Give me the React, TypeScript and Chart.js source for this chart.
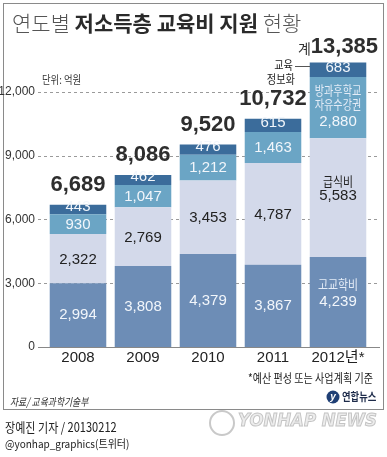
import React, { useEffect, useRef } from 'react';
import { Chart, registerables } from 'chart.js';
Chart.register(...registerables);

const years = ['2008', '2009', '2010', '2011', '2012년*'];
const highSchool = [2994, 3808, 4379, 3867, 4239];
const meals = [2322, 2769, 3453, 4787, 5583];
const afterSchool = [930, 1047, 1212, 1463, 2880];
const infoEdu = [443, 462, 476, 615, 683];
const totals = [6689, 8086, 9520, 10732, 13385];
const yTicks = [0, 3000, 6000, 9000, 12000];
const seriesNames = ['고교학비', '급식비', '방과후학교\n자유수강권', '교육\n정보화'];

const W = 387;
const H = 457;
const NUM = '"Liberation Sans Narrow","Liberation Sans","Noto Sans CJK KR",sans-serif';
const KR = '"Noto Sans CJK KR",sans-serif';
const COLORS = ['#6d8db6', '#d3d9ea', '#6ba5c5', '#3b6c9b'];
const fmt = (v: number) => v.toLocaleString('en-US');

function txt(ctx: CanvasRenderingContext2D, s: string, x: number, y: number, font: string, color: string, align: CanvasTextAlign = 'center', baseline: CanvasTextBaseline = 'middle', sx = 1) {
  ctx.save();
  ctx.font = font;
  ctx.fillStyle = color;
  ctx.textAlign = align;
  ctx.textBaseline = baseline;
  ctx.translate(x, y);
  ctx.scale(sx, 1);
  ctx.fillText(s, 0, 0);
  ctx.restore();
}

const overlay = {
  id: 'overlay',
  beforeDatasetsDraw(chart: any) {
    const ctx = chart.ctx as CanvasRenderingContext2D;
    const y = chart.scales.y;
    ctx.save();
    yTicks.forEach((v) => {
      if (v === 0) return;
      const py = Math.round(y.getPixelForValue(v)) + 0.5;
      ctx.beginPath();
      ctx.strokeStyle = '#9a9a9a';
      ctx.setLineDash([3, 3]);
      ctx.lineWidth = 1;
      ctx.moveTo(38, py);
      ctx.lineTo(380, py);
      ctx.stroke();
    });
    ctx.restore();
  },
  afterDatasetsDraw(chart: any) {
    const ctx = chart.ctx as CanvasRenderingContext2D;
    const y = chart.scales.y;
    const py = Math.round(y.getPixelForValue(0)) + 0.5;
    ctx.save();
    ctx.beginPath();
    ctx.strokeStyle = '#888';
    ctx.lineWidth = 1;
    ctx.moveTo(38, py);
    ctx.lineTo(380, py);
    ctx.stroke();
    ctx.restore();
  },
  afterDraw(chart: any) {
    const ctx = chart.ctx as CanvasRenderingContext2D;
    const ys = chart.scales.y;
    const xs = chart.scales.x;
    ctx.save();

    // frame
    ctx.strokeStyle = '#8a8a8a';
    ctx.lineWidth = 1;
    ctx.strokeRect(3.5, 3.5, 380, 406);

    // title
    ctx.textBaseline = 'middle';
    ctx.textAlign = 'left';
    let tx = 12;
    const parts: [string, string, string][] = [
      ['연도별 ', `300 21px ${KR}`, '#555'],
      ['저소득층 교육비 지원', `bold 21px ${KR}`, '#2a2a2a'],
      [' 현황', `300 21px ${KR}`, '#555'],
    ];
    parts.forEach(([s, f, c]) => {
      ctx.font = f;
      ctx.fillStyle = c;
      ctx.fillText(s, tx, 23);
      tx += ctx.measureText(s).width;
    });

    // unit
    txt(ctx, '단위: 억원', 42, 80, `11px ${KR}`, '#333', 'left', 'middle', 0.85);

    // y tick labels
    yTicks.forEach((v) => {
      txt(ctx, fmt(v), 35, ys.getPixelForValue(v), `12px ${NUM}`, '#333', 'right');
    });

    // x labels
    years.forEach((yr, i) => {
      txt(ctx, yr, xs.getPixelForValue(i), 358, `15px ${NUM}`, '#222');
    });

    // segment labels
    const offs = [0, 1, 0.5, -3];
    const n = years.length;
    const SX = 0.84;
    for (let d = 0; d < 4; d++) {
      const meta = chart.getDatasetMeta(d);
      const data = chart.data.datasets[d].data as number[];
      const color = d === 1 ? '#222' : '#f2f6fb';
      for (let i = 0; i < n; i++) {
        const el = meta.data[i] as any;
        const cy = (el.y + el.base) / 2;
        if (i < n - 1) {
          txt(ctx, fmt(data[i]), el.x, cy + offs[d], `15px ${NUM}`, color);
        } else {
          if (d === 0) {
            txt(ctx, seriesNames[0], el.x, el.y + 27, `13px ${KR}`, '#e4ecf7', 'center', 'middle', SX);
            txt(ctx, fmt(data[i]), el.x, el.y + 45, `15px ${NUM}`, color);
          } else if (d === 1) {
            txt(ctx, seriesNames[1], el.x, cy - 16, `13px ${KR}`, '#222', 'center', 'middle', SX);
            txt(ctx, fmt(data[i]), el.x, cy - 2, `15px ${NUM}`, color);
          } else if (d === 2) {
            const ls = seriesNames[2].split('\n');
            txt(ctx, ls[0], el.x, el.y + 13, `13px ${KR}`, '#e4ecf7', 'center', 'middle', 0.78);
            txt(ctx, ls[1], el.x, el.y + 27, `13px ${KR}`, '#e4ecf7', 'center', 'middle', 0.78);
            txt(ctx, fmt(data[i]), el.x, el.y + 45, `15px ${NUM}`, color);
          } else {
            txt(ctx, fmt(data[i]), el.x, cy - 2, `15px ${NUM}`, color);
            // annotation
            const ls = seriesNames[3].split('\n');
            txt(ctx, ls[0], 293, 65, `12px ${KR}`, '#222', 'right', 'middle', 0.85);
            txt(ctx, ls[1], 295, 79, `12px ${KR}`, '#222', 'right', 'middle', 0.85);
            ctx.beginPath();
            ctx.strokeStyle = '#555';
            ctx.lineWidth = 1;
            ctx.moveTo(295, 66.5);
            ctx.lineTo(310, 66.5);
            ctx.stroke();
          }
        }
      }
    }

    // totals
    const topMeta = chart.getDatasetMeta(3);
    totals.forEach((t, i) => {
      const el = topMeta.data[i] as any;
      const cx = el.x;
      const cy = el.y - 20;
      if (i < n - 1) {
        txt(ctx, fmt(t), cx, cy, `bold 22px ${NUM}`, '#2e2e2e');
      } else {
        ctx.font = `14px ${KR}`;
        const w1 = ctx.measureText('계').width;
        ctx.font = `bold 22px ${NUM}`;
        const w2 = ctx.measureText(fmt(t)).width;
        const start = cx - (w1 + w2) / 2;
        txt(ctx, '계', start, el.y - 14, `14px ${KR}`, '#333', 'left');
        txt(ctx, fmt(t), start + w1, el.y - 16, `bold 22px ${NUM}`, '#2e2e2e', 'left');
      }
    });

    // footnote
    txt(ctx, '*예산 편성 또는 사업계획 기준', 373, 378, `12px ${KR}`, '#222', 'right', 'middle', 0.84);
    // source
    txt(ctx, '자료/ 교육과학기술부', 10, 402, `italic 11px ${KR}`, '#333', 'left', 'middle', 0.8);
    // logo
    ctx.beginPath();
    ctx.fillStyle = '#1f3f75';
    ctx.arc(333, 397, 6.5, 0, Math.PI * 2);
    ctx.fill();
    txt(ctx, 'y', 333, 397, `italic bold 10px ${NUM}`, '#fff');
    txt(ctx, '연합뉴스', 342, 397, `bold 11px ${KR}`, '#1d2b4a', 'left', 'middle', 0.85);

    // watermark
    ctx.beginPath();
    ctx.strokeStyle = '#c9c9c9';
    ctx.lineWidth = 2;
    ctx.arc(222, 423, 12, 0, Math.PI * 2);
    ctx.stroke();
    ctx.font = `italic bold 18px "DejaVu Sans",sans-serif`;
    ctx.textAlign = 'left';
    ctx.textBaseline = 'middle';
    ctx.fillStyle = '#ececec';
    ctx.fillText('YONHAP NEWS', 238, 421, 139);
    ctx.strokeStyle = '#c4c4c4';
    ctx.lineWidth = 1;
    ctx.strokeText('YONHAP NEWS', 238, 421, 139);

    // credits
    txt(ctx, '장예진 기자 / 20130212', 5, 427, `13px ${KR}`, '#222', 'left', 'middle', 0.85);
    txt(ctx, '@yonhap_graphics(트위터)', 5, 444, `11px ${KR}`, '#222', 'left', 'middle', 0.91);

    ctx.restore();
  },
};

export default function App() {
  const ref = useRef<HTMLCanvasElement>(null);
  useEffect(() => {
    if (!ref.current) return;
    const chart = new Chart(ref.current, {
      type: 'bar',
      data: {
        labels: years,
        datasets: [
          { label: '고교학비', data: highSchool, backgroundColor: COLORS[0] },
          { label: '급식비', data: meals, backgroundColor: COLORS[1] },
          { label: '방과후학교 자유수강권', data: afterSchool, backgroundColor: COLORS[2] },
          { label: '교육정보화', data: infoEdu, backgroundColor: COLORS[3] },
        ].map((d) => ({ ...d, borderWidth: 0, barPercentage: 0.87, categoryPercentage: 1 })),
      },
      options: {
        responsive: false,
        animation: false,
        devicePixelRatio: 1,
        layout: { padding: { left: 45.5, right: 16.5, top: 60, bottom: 110 } },
        plugins: { legend: { display: false }, title: { display: false }, tooltip: { enabled: false } },
        scales: {
          x: { display: false, stacked: true },
          y: { display: false, stacked: true, min: 0, max: 13500 },
        },
      },
      plugins: [overlay],
    });
    return () => chart.destroy();
  }, []);
  return (
    <div style={{ position: 'absolute', left: 0, top: 0, width: W, height: H, background: '#fff' }}>
      <canvas ref={ref} width={W} height={H} style={{ width: W, height: H, display: 'block' }} />
    </div>
  );
}
